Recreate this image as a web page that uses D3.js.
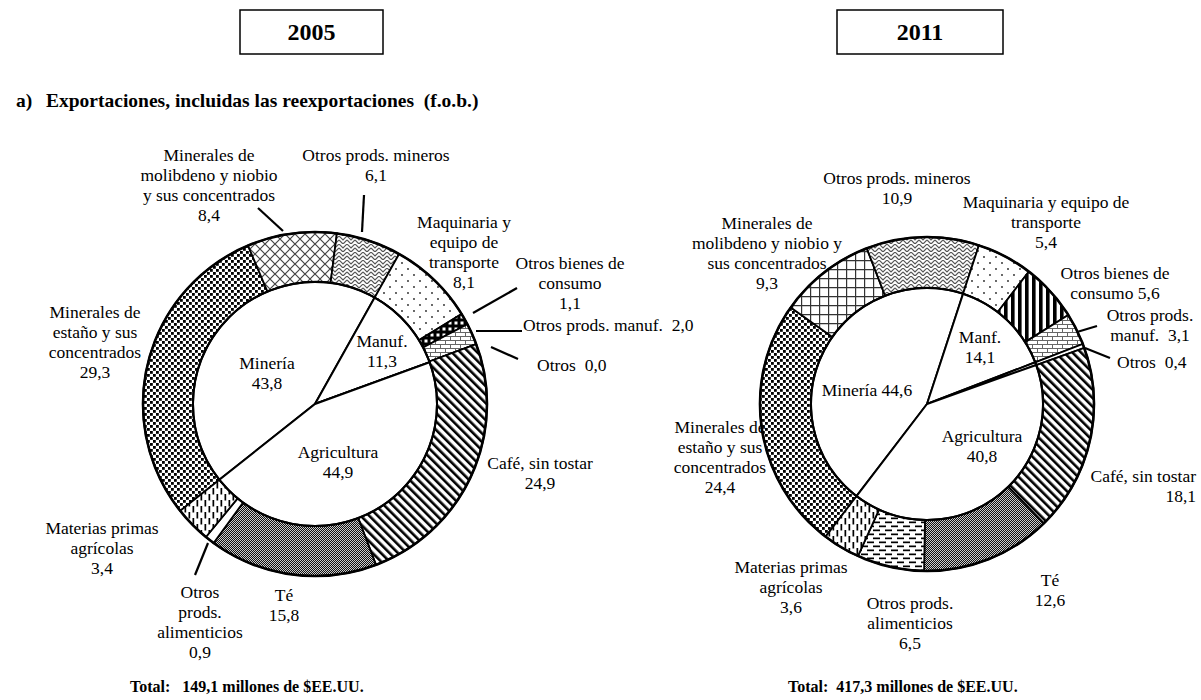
<!DOCTYPE html>
<html><head><meta charset="utf-8">
<script src="https://cdn.jsdelivr.net/npm/d3@7"></script>
<style>
body{margin:0;background:#fff}
text{font-family:"Liberation Serif","Times New Roman",serif;white-space:pre;fill:#000}
</style>
</head><body>
<svg id="c" width="1201" height="700"></svg>
<script>
// ---------- DATA ----------
const categories = [
  "Minerales de estaño y sus concentrados",
  "Minerales de molibdeno y niobio y sus concentrados",
  "Otros prods. mineros",
  "Maquinaria y equipo de transporte",
  "Otros bienes de consumo",
  "Otros prods. manuf.",
  "Otros",
  "Café, sin tostar",
  "Té",
  "Otros prods. alimenticios",
  "Materias primas agrícolas"
];
const values2005 = [29.3, 8.4, 6.1, 8.1, 1.1, 2.0, 0.0, 24.9, 15.8, 0.9, 3.4];
const values2011 = [24.4, 9.3, 10.9, 5.4, 5.6, 3.1, 0.4, 18.1, 12.6, 6.5, 3.6];
const sectors = ["Minería", "Manuf.", "Otros", "Agricultura"];
const sectorValues2005 = [43.8, 11.3, 0.0, 44.9];
const sectorValues2011 = [44.6, 14.1, 0.4, 40.8];
const years = ["2005", "2011"];
const totals = [149.1, 417.3];

// label texts ({v} = value)
const labels2005 = [
  ["Minerales de","estaño y sus","concentrados","{v}"],
  ["Minerales de","molibdeno y niobio","y sus concentrados","{v}"],
  ["Otros prods. mineros","{v}"],
  ["Maquinaria y","equipo de","transporte","{v}"],
  ["Otros bienes de","consumo","{v}"],
  ["Otros prods. manuf.  {v}"],
  ["Otros  {v}"],
  ["Café, sin tostar","{v}"],
  ["Té","{v}"],
  ["Otros","prods.","alimenticios","{v}"],
  ["Materias primas","agrícolas","{v}"]
];
const labels2011 = [
  ["Minerales de","estaño y sus","concentrados","{v}"],
  ["Minerales de","molibdeno y niobio y","sus concentrados","{v}"],
  ["Otros prods. mineros","{v}"],
  ["Maquinaria y equipo de","transporte","{v}"],
  ["Otros bienes de","consumo {v}"],
  ["Otros prods.","manuf.  {v}"],
  ["Otros  {v}"],
  ["Café, sin tostar","{v}"],
  ["Té","{v}"],
  ["Otros prods.","alimenticios","{v}"],
  ["Materias primas","agrícolas","{v}"]
];
const sectorLabels2005 = [["Minería","{v}"],["Manuf.","{v}"],null,["Agricultura","{v}"]];
const sectorLabels2011 = [["Minería {v}"],["Manf.","{v}"],null,["Agricultura","{v}"]];

// ---------- STYLE / LAYOUT ----------
const patterns2005 = ["dots","diamond","zigzag","sparse","checker","brick","white","diag","fine","white","vdash"];
const patterns2011 = ["dots","grid","zigzag","sparse","vstripe","brick","white","diag","fine","hdash","vdash"];

const layout2005 = {
  cx: 315, cy: 404, R: 172, r: 122, startDeg: -128.4,
  pos: [[95,312,"middle"],[209,155,"middle"],[376,155,"middle"],[464,222,"middle"],[570,263,"middle"],
        [523,325,"start"],[537,365,"start"],[540,463,"middle"],[284,595,"middle"],[200,592,"middle"],[102,528,"middle"]],
  sectorPos: [[267,363],[382,341],null,[338,452]],
  leaders: [null,[258,208,283,231],[364,195,362,232],null,[517,288,473,313],[476,331,522,331],[491,347,518,359],null,null,[195,575,208,543],null]
};
const layout2011 = {
  cx: 927, cy: 404, R: 167, r: 116, startDeg: -142.6,
  pos: [[720,427,"middle"],[767,223,"middle"],[897,178,"middle"],[1046,202,"middle"],[1115,273,"middle"],
        [1150,315,"middle"],[1117,362,"start"],[1196,476,"end"],[1050,580,"middle"],[910,603,"middle"],[791,567,"middle"]],
  sectorPos: [[867,390],[980,337],null,[982,436]],
  leaders: [null,null,null,null,null,[1077,332,1097,326],[1085,348,1110,358],null,null,null,null]
};

// ---------- DRAW ----------
const svg = d3.select("#c");
const defs = svg.append("defs");
function pat(id, w, h, draw, transform) {
  const p = defs.append("pattern").attr("id", id)
    .attr("patternUnits", "userSpaceOnUse").attr("width", w).attr("height", h);
  if (transform) p.attr("patternTransform", transform);
  p.append("rect").attr("width", w).attr("height", h).attr("fill", "#fff");
  if (draw) draw(p);
}
const R = (p, x, y, w, h, f) => p.append("rect").attr("x", x).attr("y", y).attr("width", w).attr("height", h).attr("fill", f || "#000");
pat("white", 4, 4);
pat("dots", 6, 6, p => { R(p,0,0,2.8,2.8); R(p,3,3,2.8,2.8); });
pat("diamond", 10, 10, p => p.append("path").attr("d","M0,0L10,10M10,0L0,10").attr("stroke","#444").attr("stroke-width",1.2));
pat("grid", 9, 9, p => p.append("path").attr("d","M0,0.6H9M0.6,0V9").attr("stroke","#333").attr("stroke-width",1.2));
pat("zigzag", 8, 8, p => p.append("path").attr("d","M0,0L4,4L8,0M0,4L4,8L8,4").attr("fill","none").attr("stroke","#555").attr("stroke-width",1.2));
pat("sparse", 12, 12, p => { p.append("circle").attr("cx",3).attr("cy",3).attr("r",0.9).attr("fill","#222"); p.append("circle").attr("cx",9).attr("cy",9).attr("r",0.9).attr("fill","#222"); });
pat("checker", 6, 6, p => { R(p,0,0,6,6); R(p,1.5,1.5,3,3,"#fff"); });
pat("vstripe", 7, 7, p => { R(p,0,0,3.6,7); });
pat("brick", 10, 8, p => p.append("path").attr("d","M0,0.5H10M0,4.5H10M0.5,0V4M5.5,4V8").attr("stroke","#666").attr("stroke-width",1));
pat("diag", 6, 6, p => { R(p,0,0,2.6,6); }, "rotate(-45)");
pat("fine", 2, 2, p => { R(p,0,0,1,1,"#111"); R(p,1,1,1,1,"#111"); R(p,1,0,1,1,"#ccc"); R(p,0,1,1,1,"#ccc"); });
pat("hdash", 12, 8, p => { R(p,0,1.5,7,1.7); R(p,6,5.5,6,1.7); R(p,0,5.5,1,1.7); });
pat("vdash", 8, 12, p => { R(p,1.5,0,1.7,6.5); R(p,5.5,6,1.7,6); R(p,5.5,0,1.7,0.5); });

const fmt = v => d3.format(".1f")(v).replace(".", ",");
const LH = 20;

function multiText(g, lines, x, y, anchor, v) {
  const t = g.append("text").attr("text-anchor", anchor).attr("font-size", 17.5);
  lines.forEach((ln, i) => {
    t.append("tspan").attr("x", x).attr("y", y + i * LH).attr("dy", "0.35em").text(ln.replace("{v}", fmt(v)));
  });
}

function drawDonut(L, values, sectorVals, pats, labels, sectorLabels) {
  const g = svg.append("g").attr("transform", `translate(${L.cx},${L.cy})`);
  const a0 = L.startDeg * Math.PI / 180;
  const pie = d3.pie().sort(null).value(d => d).startAngle(a0).endAngle(a0 + 2 * Math.PI);
  const arcO = d3.arc().innerRadius(L.r).outerRadius(L.R);
  const arcI = d3.arc().innerRadius(0).outerRadius(L.r);
  g.selectAll("path.seg").data(pie(values)).join("path").attr("class","seg")
    .attr("d", arcO).attr("fill", (d, i) => `url(#${pats[i]})`)
    .attr("stroke", "#000").attr("stroke-width", 1.8);
  g.selectAll("path.sec").data(pie(sectorVals)).join("path").attr("class","sec")
    .attr("d", arcI).attr("fill", "#fff").attr("stroke", "#000").attr("stroke-width", 2);
  g.append("circle").attr("r", L.R).attr("fill", "none").attr("stroke", "#000").attr("stroke-width", 2.6);
  g.append("circle").attr("r", L.r).attr("fill", "none").attr("stroke", "#000").attr("stroke-width", 2);

  const lg = svg.append("g");
  labels.forEach((lines, i) => {
    const [x, y, anc] = L.pos[i];
    multiText(lg, lines, x, y, anc, values[i]);
    const ld = L.leaders[i];
    if (ld) lg.append("line").attr("x1", ld[0]).attr("y1", ld[1]).attr("x2", ld[2]).attr("y2", ld[3])
      .attr("stroke", "#000").attr("stroke-width", 2.2);
  });
  sectorLabels.forEach((lines, i) => {
    if (!lines) return;
    const [x, y] = L.sectorPos[i];
    multiText(lg, lines, x, y, "middle", sectorVals[i]);
  });
}

drawDonut(layout2005, values2005, sectorValues2005, patterns2005, labels2005, sectorLabels2005);
drawDonut(layout2011, values2011, sectorValues2011, patterns2011, labels2011, sectorLabels2011);

// year boxes
const boxes = [[240, 10, 143, 44], [837, 10, 166, 44]];
years.forEach((y, i) => {
  const [x, yy, w, h] = boxes[i];
  svg.append("rect").attr("x", x).attr("y", yy).attr("width", w).attr("height", h)
    .attr("fill", "#fff").attr("stroke", "#000").attr("stroke-width", 1.5);
  svg.append("text").attr("x", x + w / 2).attr("y", yy + h / 2).attr("dy", "0.35em")
    .attr("text-anchor", "middle").attr("font-size", 24).attr("font-weight", "bold").text(y);
});

// subtitle
svg.append("text").attr("x", 16).attr("y", 100).attr("dy", "0.35em").attr("font-size", 19.5).attr("font-weight", "bold").text("a)");
svg.append("text").attr("x", 46).attr("y", 100).attr("dy", "0.35em").attr("font-size", 19.5).attr("font-weight", "bold")
  .text("Exportaciones, incluidas las reexportaciones  (f.o.b.)");

// totals
const totalX = [130, 788];
const totalSp = ["   ", "  "];
totals.forEach((t, i) => {
  svg.append("text").attr("x", totalX[i]).attr("y", 686).attr("dy", "0.35em").attr("font-size", 16).attr("font-weight", "bold")
    .text(`Total:${totalSp[i]}${fmt(t)} millones de $EE.UU.`);
});
</script>
</body></html>
